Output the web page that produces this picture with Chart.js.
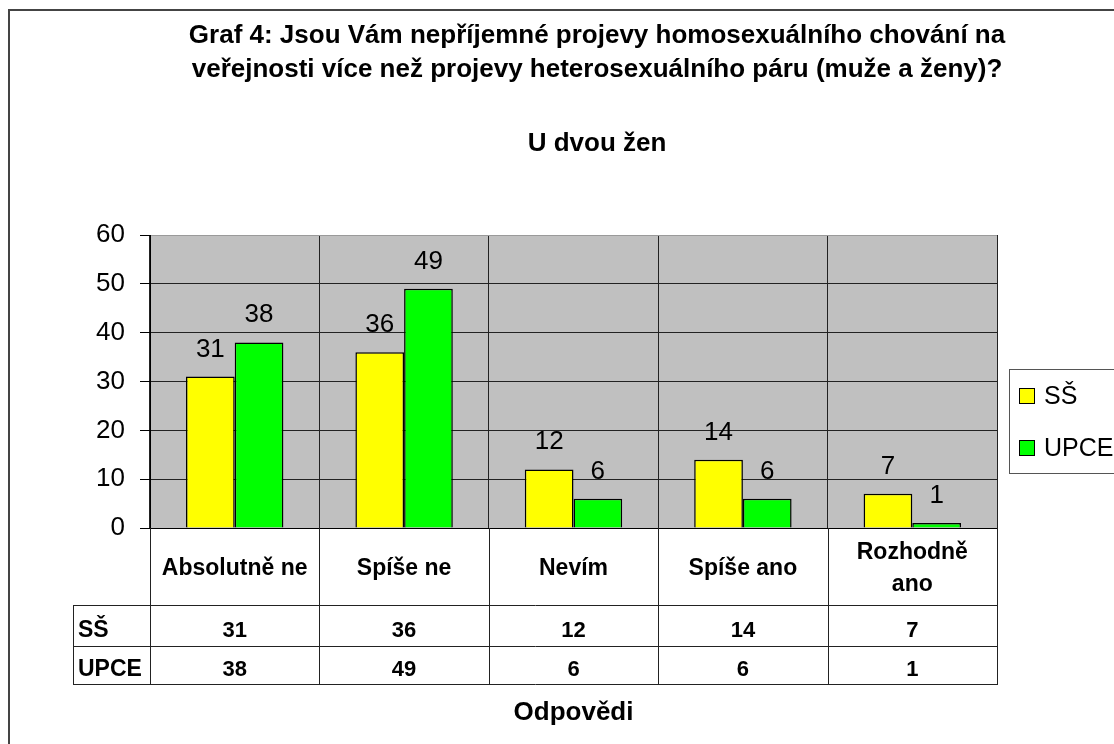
<!DOCTYPE html>
<html>
<head>
<meta charset="utf-8">
<script src="https://cdn.jsdelivr.net/npm/chart.js@4.4.1/dist/chart.umd.min.js"></script>
<style>
  html, body { margin: 0; padding: 0; background: #fff; }
  #wrap { width: 1114px; height: 744px; }
</style>
</head>
<body>
<div id="wrap"><canvas id="chart" width="1114" height="744"></canvas></div>
<script>
// Graf 4 - data
const categories = ['Absolutně ne', 'Spíše ne', 'Nevím', 'Spíše ano', ['Rozhodně', 'ano']];
const seriesNames = ['SŠ', 'UPCE'];
const ssValues = [31, 36, 12, 14, 7];
const upceValues = [38, 49, 6, 6, 1];
const seriesColors = ['#FFFF00', '#00FF00'];
const yMin = 0;
const yMax = 60;
const yStep = 10;

const titleLines = [
  'Graf 4: Jsou Vám nepříjemné projevy homosexuálního chování na',
  'veřejnosti více než projevy heterosexuálního páru (muže a ženy)?'
];
const subTitle = 'U dvou žen';
const axisTitle = 'Odpovědi';

const FONT = '"Liberation Sans", Arial, sans-serif';

// white page, grey plot area
const backgroundPlugin = {
  id: 'background',
  beforeDraw(chart) {
    const { ctx, chartArea: a } = chart;
    ctx.save();
    ctx.fillStyle = '#fff';
    ctx.fillRect(0, 0, chart.width, chart.height);
    ctx.fillStyle = '#C0C0C0';
    ctx.fillRect(a.left, a.top, a.right - a.left, a.bottom - a.top);
    ctx.restore();
  }
};

// value labels above bars
const valueLabelPlugin = {
  id: 'valueLabels',
  afterDatasetsDraw(chart) {
    const ctx = chart.ctx;
    ctx.save();
    ctx.font = '26px ' + FONT;
    ctx.fillStyle = '#000';
    ctx.textAlign = 'center';
    ctx.textBaseline = 'alphabetic';
    chart.data.datasets.forEach((ds, di) => {
      chart.getDatasetMeta(di).data.forEach((bar, i) => {
        ctx.fillText(String(ds.data[i]), bar.x, bar.y - 20);
      });
    });
    ctx.restore();
  }
};

// titles, data table, legend and outer frame
const decorPlugin = {
  id: 'decor',
  afterDraw(chart) {
    const ctx = chart.ctx;
    const a = chart.chartArea;
    const xs = chart.scales.x;
    const half = (xs.getPixelForValue(1) - xs.getPixelForValue(0)) / 2;
    ctx.save();

    // titles
    ctx.fillStyle = '#000';
    ctx.textAlign = 'center';
    ctx.textBaseline = 'alphabetic';
    ctx.font = 'bold 26px ' + FONT;
    ctx.fillText(titleLines[0], 597, 43);
    ctx.fillText(titleLines[1], 597, 77);
    ctx.fillText(subTitle, 597, 151);

    // data table
    const rowTop = a.bottom;
    const r1 = 605, r2 = 646, r3 = 684;
    const tableLeft = 73;
    ctx.strokeStyle = '#222';
    ctx.lineWidth = 1;
    ctx.beginPath();
    for (let i = 0; i <= categories.length; i++) {
      const x = Math.round(xs.getPixelForValue(0) - half + i * 2 * half) + 0.5;
      ctx.moveTo(x, rowTop);
      ctx.lineTo(x, r3);
    }
    ctx.moveTo(tableLeft + 0.5, r1);
    ctx.lineTo(tableLeft + 0.5, r3);
    [r1, r2, r3].forEach(y => {
      ctx.moveTo(tableLeft, y + 0.5);
      ctx.lineTo(a.right + 1, y + 0.5);
    });
    ctx.stroke();

    ctx.font = 'bold 23px ' + FONT;
    ctx.textAlign = 'center';
    categories.forEach((c, i) => {
      const cx = xs.getPixelForValue(i);
      const lines = Array.isArray(c) ? c : [c];
      const lh = 32;
      const base = (rowTop + r1) / 2 + 8 - (lines.length - 1) * lh / 2;
      lines.forEach((t, k) => ctx.fillText(t, cx, base + k * lh));
    });
    ctx.font = 'bold 22px ' + FONT;
    categories.forEach((c, i) => {
      const cx = xs.getPixelForValue(i);
      ctx.fillText(String(ssValues[i]), cx, r1 + 32);
      ctx.fillText(String(upceValues[i]), cx, r2 + 30);
    });
    ctx.textAlign = 'left';
    ctx.font = 'bold 23px ' + FONT;
    ctx.fillText(seriesNames[0], 78, r1 + 32);
    ctx.fillText(seriesNames[1], 78, r2 + 30);

    // axis title
    ctx.textAlign = 'center';
    ctx.font = 'bold 26px ' + FONT;
    ctx.fillText(axisTitle, (a.left + a.right) / 2, 720);

    // legend
    ctx.strokeStyle = '#555';
    ctx.strokeRect(1009.5, 369.5, 200, 104);
    ctx.font = '25px ' + FONT;
    ctx.textAlign = 'left';
    ctx.textBaseline = 'middle';
    seriesNames.forEach((n, i) => {
      const y = 388 + i * 52;
      ctx.fillStyle = seriesColors[i];
      ctx.fillRect(1019, y, 15, 15);
      ctx.strokeStyle = '#000';
      ctx.strokeRect(1019.5, y + 0.5, 15, 15);
      ctx.fillStyle = '#000';
      ctx.fillText(n, 1044, y + 9);
    });

    // outer chart frame (cropped on right and bottom)
    ctx.strokeStyle = '#444';
    ctx.lineWidth = 2;
    ctx.beginPath();
    ctx.moveTo(9, chart.height);
    ctx.lineTo(9, 10);
    ctx.lineTo(chart.width, 10);
    ctx.stroke();

    ctx.restore();
  }
};

new Chart(document.getElementById('chart'), {
  type: 'bar',
  data: {
    labels: categories,
    datasets: [
      { label: seriesNames[0], data: ssValues, backgroundColor: seriesColors[0], borderColor: '#000', borderWidth: 1.5 },
      { label: seriesNames[1], data: upceValues, backgroundColor: seriesColors[1], borderColor: '#000', borderWidth: 1.5 }
    ]
  },
  options: {
    responsive: false,
    animation: false,
    devicePixelRatio: 1,
    layout: { padding: { top: 235, left: 0, right: 117, bottom: 0 } },
    datasets: { bar: { categoryPercentage: 0.575, barPercentage: 1 } },
    plugins: {
      legend: { display: false },
      title: { display: false },
      tooltip: { enabled: false }
    },
    scales: {
      x: {
        offset: true,
        grid: {
          offset: true,
          drawTicks: false,
          color: ctx => ctx.index === categories.length ? '#808080' : '#222',
          lineWidth: 1
        },
        border: { display: true, color: '#000', width: 1 },
        ticks: { display: false },
        afterFit(scale) { scale.height = 216; }
      },
      y: {
        min: yMin,
        max: yMax,
        ticks: {
          stepSize: yStep,
          color: '#000',
          padding: 15,
          font: { family: FONT, size: 26 }
        },
        grid: {
          color: ctx => ctx.tick && ctx.tick.value === yMax ? '#9a9a9a' : '#222',
          tickColor: '#000',
          tickLength: 10,
          lineWidth: 1
        },
        border: { display: true, color: '#000', width: 1 },
        afterFit(scale) { scale.width = 150; }
      }
    }
  },
  plugins: [backgroundPlugin, valueLabelPlugin, decorPlugin]
});
</script>
</body>
</html>
